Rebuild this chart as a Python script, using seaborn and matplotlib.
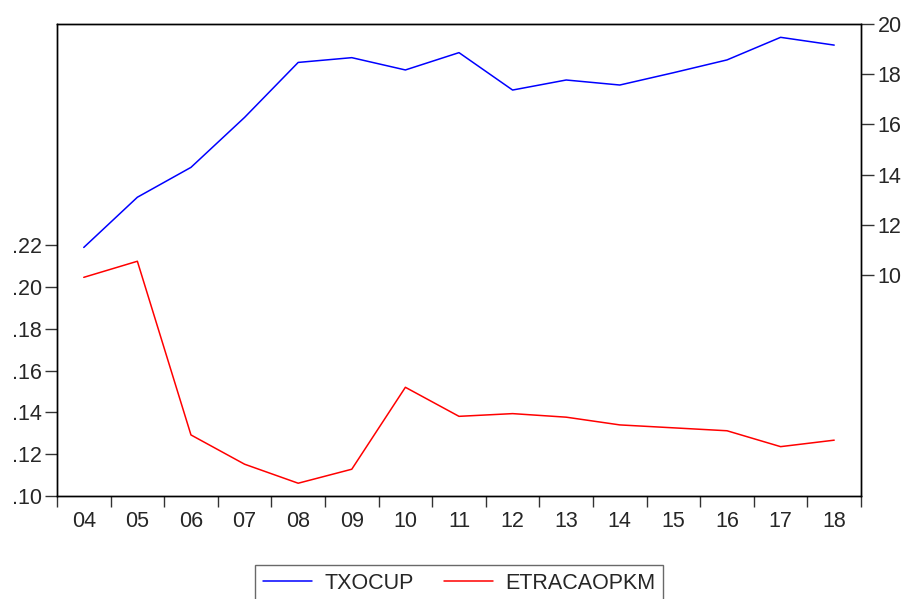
import matplotlib
matplotlib.use("Agg")
import matplotlib.pyplot as plt
import matplotlib.ticker as mticker
import numpy as np
import pandas as pd
import seaborn as sns

# Annual series, 2004-2018
years = ["04", "05", "06", "07", "08", "09", "10", "11", "12", "13", "14", "15", "16", "17", "18"]
txocup = [11.10, 13.10, 14.29, 16.28, 18.47, 18.66, 18.17, 18.86, 17.37, 17.77, 17.57, 18.06, 18.57, 19.47, 19.16]
etracaopkm = [0.2046, 0.2123, 0.1292, 0.1152, 0.1061, 0.1128, 0.1520, 0.1381, 0.1394, 0.1377,
              0.1340, 0.1326, 0.1312, 0.1236, 0.1267]
left_ticks = [0.10, 0.12, 0.14, 0.16, 0.18, 0.20, 0.22]
right_ticks = [10, 12, 14, 16, 18, 20]

FS = 15.5

sns.set_style("ticks")
plt.rcParams["font.family"] = ["Liberation Sans", "DejaVu Sans"]
plt.rcParams["font.size"] = FS

df = pd.DataFrame({"pos": np.arange(len(years)), "TXOCUP": txocup, "ETRACAOPKM": etracaopkm})

fig = plt.figure(figsize=(9.07, 5.99), dpi=100)
ax = fig.add_axes([0.0628, 0.1720, 0.9493 - 0.0628, 0.9599 - 0.1720])
ax2 = ax.twinx()

sns.lineplot(data=df, x="pos", y="ETRACAOPKM", ax=ax, color="#ff0000", linewidth=1.1, label="ETRACAOPKM", legend=False)
sns.lineplot(data=df, x="pos", y="TXOCUP", ax=ax2, color="#0000ff", linewidth=1.1, label="TXOCUP", legend=False)

ax.set_xlim(-0.5, len(years) - 0.5)
ax.set_ylim(0.10, 0.3258)
ax2.set_ylim(1.2, 20.0)

# x axis: labels centred on each year, tick marks between years
ax.set_xticks(np.arange(len(years)))
ax.set_xticklabels(years)
ax.set_xticks(np.arange(-0.5, len(years)), minor=True)
ax.tick_params(axis="x", which="major", length=0, pad=11, labelsize=FS)
ax.tick_params(axis="x", which="minor", length=8, width=1.0, direction="out", color="#333333")

ax.set_yticks(left_ticks)
ax.yaxis.set_major_formatter(mticker.FuncFormatter(lambda v, p: f"{v:.2f}".lstrip("0")))
ax.tick_params(axis="y", length=9, width=1.0, direction="out", labelsize=FS, pad=2, color="#333333")

ax2.set_yticks(right_ticks)
ax2.tick_params(axis="y", length=9, width=1.0, direction="out", labelsize=FS, pad=3, color="#333333")

for a in (ax, ax2):
    a.set_xlabel("")
    a.set_ylabel("")
    for s in a.spines.values():
        s.set_visible(True)
        s.set_color("black")
        s.set_linewidth(1.0)
ax.grid(False)
ax2.grid(False)

h2, l2 = ax2.get_legend_handles_labels()
h1, l1 = ax.get_legend_handles_labels()
leg = fig.legend(h2 + h1, l2 + l1, loc="upper center", bbox_to_anchor=(0.506, 1 - 565 / 599), ncol=2,
                 frameon=True, fancybox=False, edgecolor="#444444", fontsize=FS, borderaxespad=0.0,
                 handlelength=2.3, handletextpad=0.55, columnspacing=1.4, borderpad=0.35)
leg.get_frame().set_linewidth(1.0)

fig.savefig("out.png", dpi=100, facecolor="white")
